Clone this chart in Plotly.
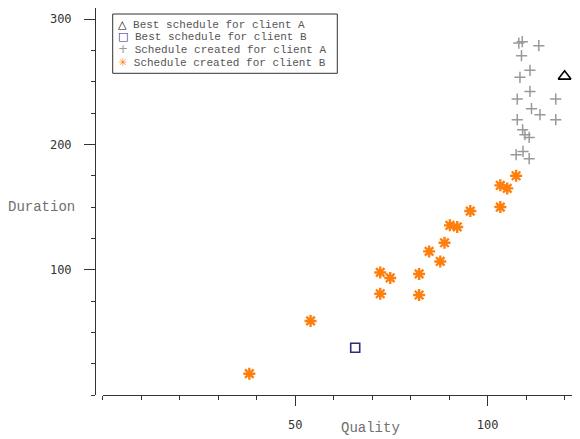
import plotly.graph_objects as go

# ---- data ----
a_quality = [108.1, 109.0, 113.3, 108.8, 111.0, 108.4, 111.0, 107.7, 117.7, 111.4,
             113.6, 107.7, 117.7, 109.1, 109.7, 110.8, 107.4, 109.2, 110.8]
a_duration = [280.9, 282.0, 278.8, 270.8, 259.1, 253.5, 242.3, 236.2, 236.2, 228.5,
              223.7, 219.7, 219.7, 211.7, 207.7, 205.6, 191.8, 194.4, 188.6]
b_quality = [38.1, 54.0, 72.1, 72.1, 74.7, 82.2, 82.2, 84.8, 87.7, 88.8, 90.2, 92.1,
             95.5, 103.3, 103.3, 105.1, 107.4]
b_duration = [17.0, 59.1, 80.8, 97.8, 93.4, 96.6, 79.8, 114.6, 106.6, 121.5, 135.4, 134.1,
              146.8, 150.0, 167.3, 164.9, 175.0]
best_a_quality = [120.0]
best_a_duration = [254.3]
best_b_quality = [65.6]
best_b_duration = [37.7]

y_major = [100, 200, 300]
y_mid = [50, 150, 250]
x_major = [50, 100]

legend_labels = ["Best schedule for client A", "Best schedule for client B",
                 "Schedule created for client A", "Schedule created for client B"]

# ---- layout geometry (pixels, in page coordinates; body has an 8px margin) ----
OFF = 8
W, H = 580 - OFF, 439 - OFF
L, T = 95 - OFF, 0
B = H - (395 - OFF)
R = 0
PW, PH = W - L - R, H - T - B
Y_TOP = (395 - 8) / 1.253


def px(x):
    return (x - OFF - L) / PW


def py(y):
    return (H - B - (y - OFF)) / PH


AXC = "#333333"
ORANGE = "#ff7f0e"
GRAY = "#999999"
NAVY = "#2b2b7f"

fig = go.Figure()
fig.add_trace(go.Scatter(x=a_quality, y=a_duration, mode="markers", name=legend_labels[2],
                         marker=dict(symbol="cross-thin-open", size=8, color=GRAY,
                                     line=dict(color=GRAY, width=1.5))))
fig.add_trace(go.Scatter(x=b_quality, y=b_duration, mode="markers", name=legend_labels[3],
                         marker=dict(symbol="asterisk-open", size=10, color=ORANGE,
                                     line=dict(color=ORANGE, width=2.4))))
fig.add_trace(go.Scatter(x=best_b_quality, y=best_b_duration, mode="markers", name=legend_labels[1],
                         marker=dict(symbol="square-open", size=9, color=NAVY,
                                     line=dict(color=NAVY, width=1.6))))
fig.add_trace(go.Scatter(x=best_a_quality, y=best_a_duration, mode="markers", name=legend_labels[0],
                         marker=dict(symbol="triangle-up-open", size=11, color="black",
                                     line=dict(color="black", width=1.6))))

tickfont = dict(family="DejaVu Sans Mono", size=12, color="#333333")

fig.update_layout(
    width=W, height=H,
    margin=dict(l=L, r=R, t=T, b=B, pad=0),
    plot_bgcolor="white", paper_bgcolor="white",
    showlegend=False,
    xaxis=dict(domain=[px(102.7), 1], range=[0, 124.0], anchor="y",
               showgrid=False, zeroline=False, showline=True, linecolor=AXC, linewidth=1,
               tickmode="array", tickvals=x_major, ticks="outside", ticklen=10,
               tickcolor=AXC, tickwidth=1, tickfont=tickfont, ticklabelstandoff=9,
               minor=dict(tickmode="linear", tick0=0, dtick=10, ticks="outside",
                          ticklen=4, tickcolor=AXC, tickwidth=1, showgrid=False)),
    yaxis=dict(domain=[0, 1], range=[0, Y_TOP], anchor="free", position=0,
               showgrid=False, zeroline=False, showline=True, linecolor=AXC, linewidth=1,
               tickmode="array", tickvals=y_major, ticks="outside", ticklen=11,
               tickcolor=AXC, tickwidth=1, tickfont=tickfont, ticklabelstandoff=10,
               minor=dict(tickmode="linear", tick0=0, dtick=25, ticks="outside",
                          ticklen=4, tickcolor=AXC, tickwidth=1, showgrid=False)),
    yaxis2=dict(overlaying="y", domain=[0, 1], range=[0, Y_TOP], anchor="free", position=0,
                side="left", showgrid=False, zeroline=False, showline=False,
                tickmode="array", tickvals=y_mid, ticks="outside", ticklen=8,
                tickcolor=AXC, tickwidth=1, showticklabels=False),
)

titlefont = dict(family="Liberation Mono", size=14, color="#707070")
fig.add_annotation(text="Duration", xref="paper", yref="paper", x=px(77), y=py(207),
                   xanchor="right", yanchor="middle", showarrow=False, font=titlefont)
fig.add_annotation(text="Quality", xref="paper", yref="paper", x=px(370.5), y=py(428),
                   xanchor="center", yanchor="middle", showarrow=False, font=titlefont)

# legend box
fig.add_shape(type="rect", xref="paper", yref="paper",
              x0=px(112.7), x1=px(337.3), y0=py(73.3), y1=py(14),
              line=dict(color=AXC, width=1), fillcolor="rgba(255,255,255,0)")
legend_symbols = ["△", "□", "+", "✳"]
legend_colors = ["black", NAVY, GRAY, ORANGE]
legend_sizes = [11, 11, 12, 11]
row_y = [24, 36.6, 49.3, 62]
for sym, col, sz, lab, yy in zip(legend_symbols, legend_colors, legend_sizes, legend_labels, row_y):
    txt = (f'<span style="font-family:DejaVu Sans;font-size:{sz}px;color:{col}">{sym}</span>'
           f' {lab}')
    fig.add_annotation(text=txt, xref="paper", yref="paper", x=px(116.5), y=py(yy),
                       xanchor="left", yanchor="middle", showarrow=False, borderpad=0,
                       font=dict(family="Liberation Mono", size=11, color="#555555"))

fig.write_html("out.html")
